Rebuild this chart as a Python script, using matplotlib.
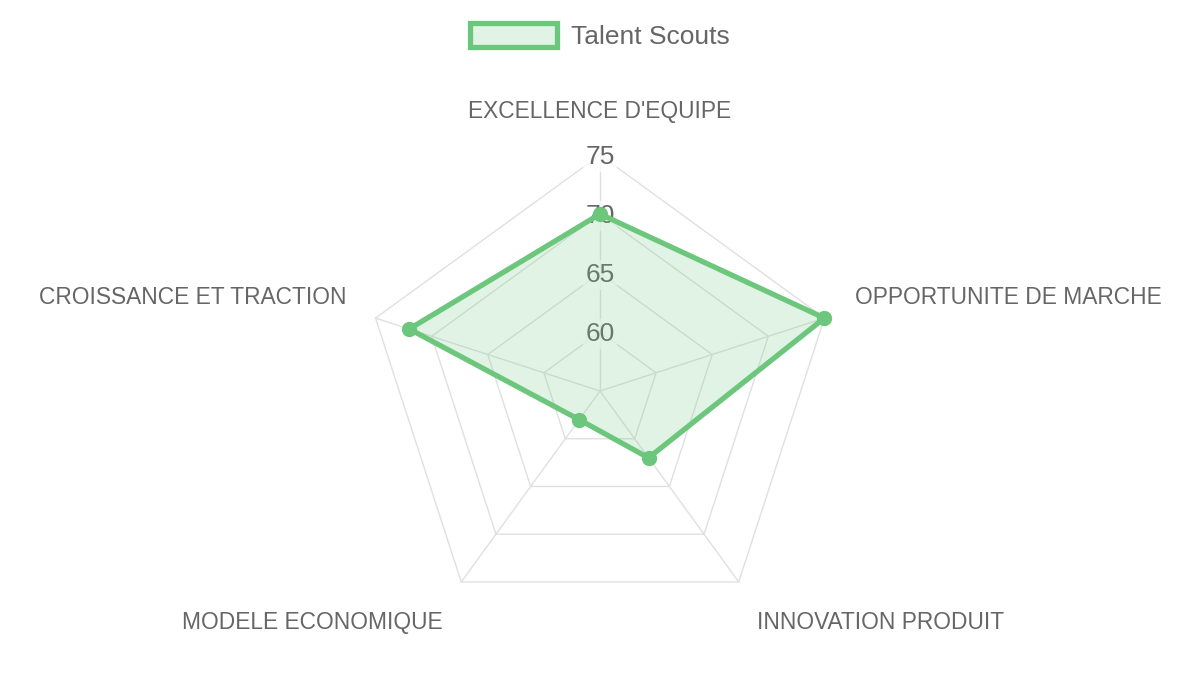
import numpy as np
import matplotlib

matplotlib.use("Agg")
import matplotlib.pyplot as plt
from matplotlib.patches import Patch

plt.rcParams["font.family"] = ["Liberation Sans", "DejaVu Sans"]

# data
CATEGORIES = [
    "EXCELLENCE D'EQUIPE",
    "OPPORTUNITE DE MARCHE",
    "INNOVATION PRODUIT",
    "MODELE ECONOMIQUE",
    "CROISSANCE ET TRACTION",
]
VALUES = [70, 75, 62, 58, 72]
SERIES = "Talent Scouts"
R_MIN, R_MAX = 55, 75
TICKS = [60, 65, 70, 75]

LINE = "#6cc77c"
FILL = "#6cc77c33"
GRID = "#e0e0e0"
TEXT = "#666666"

# label offsets (pixels) from each outer vertex, and alignment
LABEL_POS = [
    ((0, 44), "center", "center"),
    ((31, 21), "left", "center"),
    ((18, -41), "left", "center"),
    ((-19, -41), "right", "center"),
    ((-29, 21), "right", "center"),
]

fig = plt.figure(figsize=(12, 6.75), dpi=100)
ax = fig.add_axes([0.30333, 0.07111, 0.39333, 0.69926], projection="polar")
ax.set_theta_zero_location("N")
ax.set_theta_direction(-1)
ax.set_ylim(R_MIN, R_MAX)
ax.set_xticks([])
ax.set_yticks([])
ax.grid(False)
ax.spines["polar"].set_visible(False)
ax.patch.set_visible(False)

n = len(CATEGORIES)
angles = np.arange(n) * 2 * np.pi / n
closed = np.append(angles, angles[0])

# polygon grid + spokes
for r in TICKS:
    ax.plot(closed, [r] * (n + 1), color=GRID, lw=1.0, zorder=1, clip_on=False)
for a in angles:
    ax.plot([a, a], [R_MIN, R_MAX], color=GRID, lw=1.0, zorder=1, clip_on=False)

# tick labels with backdrop
for r in TICKS:
    ax.annotate(str(r), xy=(0, r), xytext=(0, -2), textcoords="offset pixels",
                ha="center", va="center", fontsize=19, color=TEXT, zorder=2,
                annotation_clip=False,
                bbox=dict(boxstyle="square,pad=0.1", fc="white", ec="none", alpha=0.75))

# point labels
for a, lab, (off, ha, va) in zip(angles, CATEGORIES, LABEL_POS):
    ax.annotate(lab, xy=(a, R_MAX), xytext=off, textcoords="offset pixels",
                ha=ha, va=va, fontsize=16.4, color=TEXT, annotation_clip=False)

# data
vals = np.append(VALUES, VALUES[0])
ax.fill(closed, vals, color=FILL, lw=0, zorder=3, clip_on=False)
ax.plot(closed, vals, color=LINE, lw=3.8, zorder=4, solid_joinstyle="round",
        clip_on=False)
ax.plot(angles, VALUES, "o", color=LINE, ms=10, zorder=5, clip_on=False)

handle = Patch(facecolor="#e0f3e4", edgecolor=LINE, linewidth=3.8, label=SERIES)
fig.legend(handles=[handle], loc="center", bbox_to_anchor=(0.5, 1 - 36 / 675),
           frameon=False, fontsize=19, labelcolor=TEXT,
           handlelength=3.3, handleheight=1.0, handletextpad=0.55)

fig.savefig("out.png", dpi=100)
